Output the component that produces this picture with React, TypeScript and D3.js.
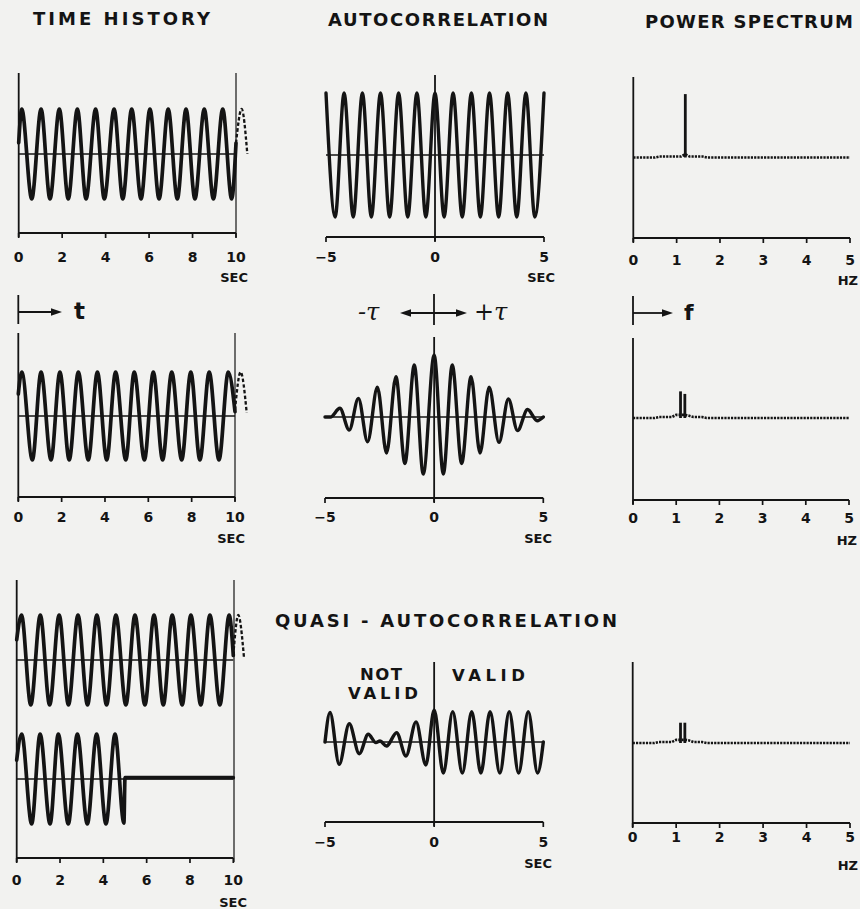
import React from "react";
import * as d3 from "d3";

// ---------------- data ----------------
const timeTicks = [0, 2, 4, 6, 8, 10];
const lagTicks = [-5, 0, 5];
const lagTickLabels = ["\u22125", "0", "5"];
const freqTicks = [0, 1, 2, 3, 4, 5];

const colTitles = ["TIME HISTORY", "AUTOCORRELATION", "POWER SPECTRUM"];
const quasiTitle = "QUASI - AUTOCORRELATION";

// Row 1 : time history (start, extrema, end)
const hist1T = [0, 0.14, 0.6, 1.03, 1.44, 1.87, 2.28, 2.7, 3.1, 3.54, 3.94, 4.39, 4.79, 5.2, 5.63, 6.04, 6.46, 6.88, 7.3, 7.7, 8.11, 8.54, 8.96, 9.39, 9.8, 10];
const hist1V = [0.25, 1, -1, 1, -1, 1, -1, 1, -1, 1, -1, 1, -1, 1, -1, 1, -1, 1, -1, 1, -1, 1, -1, 1, -1, 0.24];
const hist1ExtT = [10, 10.26, 10.52];
const hist1ExtV = [0.24, 1, 0];

// Row 1 : autocorrelation
const acorr1T = [-5, -4.58, -4.17, -3.75, -3.33, -2.92, -2.5, -2.08, -1.67, -1.25, -0.83, -0.42, 0, 0.42, 0.83, 1.25, 1.67, 2.08, 2.5, 2.92, 3.33, 3.75, 4.17, 4.58, 5];
const acorr1V = [1, -1, 1, -1, 1, -1, 1, -1, 1, -1, 1, -1, 1, -1, 1, -1, 1, -1, 1, -1, 1, -1, 1, -1, 1];

// Power spectra, bins 0.0 .. 5.0 Hz every 0.1 Hz
const spec1 = [0, 0, 0, 0, 0, 0, 0.015, 0.015, 0.015, 0.015, 0.015, 0.015, 1.0, 0.015, 0.015, 0.015, 0.015,
  0, 0, 0, 0, 0, 0, 0, 0, 0, 0, 0, 0, 0, 0, 0, 0, 0, 0, 0, 0, 0, 0, 0, 0, 0, 0, 0, 0, 0, 0, 0, 0, 0, 0];
const spec2 = [0, 0, 0, 0, 0, 0, 0.015, 0.015, 0.015, 0.015, 0.05, 0.42, 0.38, 0.035, 0.015, 0.015, 0.015,
  0, 0, 0, 0, 0, 0, 0, 0, 0, 0, 0, 0, 0, 0, 0, 0, 0, 0, 0, 0, 0, 0, 0, 0, 0, 0, 0, 0, 0, 0, 0, 0, 0, 0];
const spec3 = [0, 0, 0, 0, 0, 0, 0.015, 0.015, 0.015, 0.015, 0.05, 0.32, 0.32, 0.04, 0.015, 0.015, 0.015,
  0, 0, 0, 0, 0, 0, 0, 0, 0, 0, 0, 0, 0, 0, 0, 0, 0, 0, 0, 0, 0, 0, 0, 0, 0, 0, 0, 0, 0, 0, 0, 0, 0, 0];
const specFreq = spec1.map((_, i) => i / 10);

// Row 2 : time history
const hist2T = [0, 0.16, 0.65, 1.05, 1.51, 1.92, 2.35, 2.77, 3.23, 3.65, 4.08, 4.49, 4.96, 5.35, 5.82, 6.23, 6.66, 7.08, 7.54, 7.96, 8.38, 8.81, 9.26, 9.69, 10];
const hist2V = [0.5, 1, -1, 1, -1, 1, -1, 1, -1, 1, -1, 1, -1, 1, -1, 1, -1, 1, -1, 1, -1, 1, -1, 1, 0.1];
const hist2ExtT = [10, 10.26, 10.54];
const hist2ExtV = [0.14, 1, 0.07];

// Row 2 : autocorrelation
const acorr2T = [-5, -4.75, -4.32, -3.89, -3.47, -3.05, -2.6, -2.18, -1.75, -1.34, -0.91, -0.5, 0, 0.42, 0.83, 1.26, 1.69, 2.1, 2.52, 2.97, 3.4, 3.82, 4.28, 4.72, 5];
const acorr2V = [0, 0, 0.14, -0.21, 0.3, -0.4, 0.48, -0.58, 0.65, -0.75, 0.84, -0.92, 1.0, -0.92, 0.84, -0.75, 0.65, -0.58, 0.48, -0.41, 0.29, -0.22, 0.12, -0.06, 0];

// Row 3 : two time histories (full and truncated)
const hist3aT = [0, 0.22, 0.65, 1.09, 1.52, 1.96, 2.39, 2.83, 3.27, 3.7, 4.15, 4.58, 5.04, 5.46, 5.92, 6.34, 6.77, 7.18, 7.64, 8.04, 8.5, 8.92, 9.38, 9.81, 10];
const hist3aV = [0.45, 1, -1, 1, -1, 1, -1, 1, -1, 1, -1, 1, -1, 1, -1, 1, -1, 1, -1, 1, -1, 1, -1, 1, 0.1];
const hist3aExtT = [10, 10.23, 10.49];
const hist3aExtV = [0.1, 1, 0.07];
const hist3bT = [0, 0.23, 0.69, 1.08, 1.54, 1.92, 2.38, 2.8, 3.26, 3.69, 4.12, 4.54, 4.95, 5.0, 10];
const hist3bV = [0.42, 1, -1, 1, -1, 1, -1, 1, -1, 1, -1, 1, -0.98, 0.03, 0.03];

// Row 3 : quasi-autocorrelation
const quasiT = [-5, -4.77, -4.35, -3.89, -3.43, -3.02, -2.67, -2.48, -2.18, -1.72, -1.29, -0.83, -0.38, 0, 0.42, 0.85, 1.29, 1.72, 2.14, 2.56, 3.01, 3.44, 3.87, 4.31, 4.74, 5];
const quasiV = [0, 0.95, -0.72, 0.59, -0.38, 0.25, -0.02, 0.03, -0.13, 0.3, -0.45, 0.65, -0.74, 1.03, -1, 0.98, -1, 0.98, -1, 0.98, -1, 0.98, -1, 0.98, -1, 0];

// ---------------- layout / style ----------------
const W = 860;
const H = 909;
const INK = "#141414";
const BG = "#f2f2f0";
const FONT = "'DejaVu Sans', Verdana, sans-serif";

type Kind = "time" | "lag" | "freq";
type L = {
  x0: number; x1: number; top: number; bottom: number; zero: number; amp: number;
  labelY: number; unitY: number; unitRight: number; rightX?: number;
};

const TL: L = { x0: 18.7, x1: 236, top: 73, bottom: 233, zero: 154, amp: 45, labelY: 262, unitY: 282, unitRight: 248, rightX: 236 };
const TM: L = { x0: 326, x1: 544, top: 75, bottom: 237, zero: 155, amp: 62, labelY: 262, unitY: 282, unitRight: 555 };
const TR: L = { x0: 633.3, x1: 850, top: 77, bottom: 238, zero: 157.5, amp: 63.4, labelY: 265, unitY: 285, unitRight: 858 };
const ML: L = { x0: 18.3, x1: 235, top: 333, bottom: 497, zero: 416, amp: 44, labelY: 522, unitY: 543, unitRight: 245, rightX: 235 };
const MM: L = { x0: 325, x1: 543.3, top: 337, bottom: 498, zero: 417, amp: 62, labelY: 522, unitY: 543, unitRight: 552 };
const MR: L = { x0: 633, x1: 849, top: 338, bottom: 500, zero: 418, amp: 63.4, labelY: 523, unitY: 545, unitRight: 857 };
const BL: L = { x0: 16.7, x1: 233.3, top: 580, bottom: 858, zero: 660, amp: 45, labelY: 885, unitY: 907, unitRight: 247, rightX: 234 };
const BL_LOWER_ZERO = 779;
const BM: L = { x0: 325, x1: 543.3, top: 662, bottom: 822, zero: 742, amp: 31, labelY: 847, unitY: 868, unitRight: 552 };
const BR: L = { x0: 632.7, x1: 850, top: 662, bottom: 823, zero: 743, amp: 63.4, labelY: 842, unitY: 870, unitRight: 858 };

function xScale(kind: Kind, l: L) {
  const dom = kind === "time" ? [0, 10] : kind === "lag" ? [-5, 5] : [0, 5];
  return d3.scaleLinear().domain(dom).range([l.x0, l.x1]);
}
function yScale(l: L, zero = l.zero) {
  return d3.scaleLinear().domain([-1, 1]).range([zero + l.amp, zero - l.amp]);
}

function wave(xs: d3.ScaleLinear<number, number>, ys: d3.ScaleLinear<number, number>, T: number[], V: number[]) {
  const pts: [number, number][] = T.map((t, i) => [t, V[i]]);
  return d3.line<[number, number]>().x((d) => xs(d[0])).y((d) => ys(d[1])).curve(d3.curveMonotoneX)(pts) || "";
}

function Frame({ kind, l, zeroLines = [] }: { kind: Kind; l: L; zeroLines?: number[] }) {
  const xs = xScale(kind, l);
  const ticks = kind === "time" ? timeTicks : kind === "lag" ? lagTicks : freqTicks;
  const labels = kind === "lag" ? lagTickLabels : ticks.map(String);
  const unit = kind === "freq" ? "HZ" : "SEC";
  const axisX = kind === "lag" ? xs(0) : xs(ticks[0]);
  return (
    <g stroke={INK} fill="none">
      <line x1={l.x0} x2={l.x1} y1={l.bottom} y2={l.bottom} strokeWidth={1.9} />
      <line x1={axisX} x2={axisX} y1={l.top} y2={l.bottom + 4} strokeWidth={1.8} />
      {l.rightX !== undefined && (
        <line x1={l.rightX} x2={l.rightX} y1={l.top} y2={l.bottom + 4} strokeWidth={1.2} />
      )}
      {ticks.map((t) => (
        <line key={"t" + t} x1={xs(t)} x2={xs(t)} y1={l.bottom} y2={l.bottom + 5} strokeWidth={1.7} />
      ))}
      {zeroLines.map((z, i) => (
        <line key={"z" + i} x1={l.x0} x2={l.x1} y1={z} y2={z} strokeWidth={1.7} />
      ))}
      <g stroke="none" fill={INK} fontFamily={FONT} fontWeight="bold">
        {ticks.map((t, i) => (
          <text key={"l" + t} x={xs(t)} y={l.labelY} fontSize={14} textAnchor="middle">
            {labels[i]}
          </text>
        ))}
        <text x={l.unitRight} y={l.unitY} fontSize={13} textAnchor="end">
          {unit}
        </text>
      </g>
    </g>
  );
}

function TimeTrace({ l, T, V, extT, extV, zero }: { l: L; T: number[]; V: number[]; extT?: number[]; extV?: number[]; zero?: number }) {
  const xs = d3.scaleLinear().domain([0, 10]).range([l.x0, l.x1]);
  const ys = yScale(l, zero ?? l.zero);
  return (
    <g fill="none" stroke={INK} strokeLinejoin="round" strokeLinecap="round">
      <path d={wave(xs, ys, T, V)} strokeWidth={3.7} />
      {extT && extV && <path d={wave(xs, ys, extT, extV)} strokeWidth={2.3} strokeDasharray="3.5 2.2" strokeLinecap="butt" />}
    </g>
  );
}

function LagTrace({ l, T, V }: { l: L; T: number[]; V: number[] }) {
  const xs = d3.scaleLinear().domain([-5, 5]).range([l.x0, l.x1]);
  const ys = yScale(l);
  return <path d={wave(xs, ys, T, V)} fill="none" stroke={INK} strokeWidth={3.4} strokeLinejoin="round" strokeLinecap="round" />;
}

function Spectrum({ l, P }: { l: L; P: number[] }) {
  const xs = d3.scaleLinear().domain([0, 5]).range([l.x0, l.x1]);
  const ys = d3.scaleLinear().domain([0, 1]).range([l.zero, l.zero - l.amp]);
  const base = d3.line<number>().x((_, i) => xs(specFreq[i])).y((d) => ys(Math.min(d, 0.05)))(P) || "";
  return (
    <g stroke={INK} fill="none">
      <path d={base} strokeWidth={2.6} strokeDasharray="2.2 1.1" />
      {P.map((p, i) =>
        p > 0.1 ? (
          <line key={i} x1={xs(specFreq[i])} x2={xs(specFreq[i])} y1={ys(0)} y2={ys(p)} strokeWidth={2.8} />
        ) : null
      )}
    </g>
  );
}

function Title({ text, x0, x1, y }: { text: string; x0: number; x1: number; y: number }) {
  return (
    <text x={x0} y={y} fontFamily={FONT} fontWeight="bold" fontSize={18} fill={INK} textLength={x1 - x0} lengthAdjust="spacing">
      {text}
    </text>
  );
}

function Arrows() {
  const head = (tipX: number, y: number, dir: number) =>
    `M${tipX},${y} L${tipX - dir * 11},${y - 3.8} L${tipX - dir * 11},${y + 3.8} Z`;
  return (
    <g stroke={INK} fill={INK}>
      {/* t arrow */}
      <line x1={18.3} x2={18.3} y1={295} y2={324} strokeWidth={1.8} />
      <line x1={18.3} x2={54} y1={312} y2={312} strokeWidth={1.8} />
      <path d={head(62, 312, 1)} stroke="none" />
      <text x={74} y={319} fontFamily={FONT} fontWeight="bold" fontSize={23} stroke="none">t</text>
      {/* tau arrows */}
      <line x1={434} x2={434} y1={294} y2={325} strokeWidth={1.8} />
      <line x1={407} x2={460} y1={313} y2={313} strokeWidth={1.8} />
      <path d={head(400, 313, -1)} stroke="none" />
      <path d={head(467, 313, 1)} stroke="none" />
      <text x={358} y={320} fontFamily="'DejaVu Serif', serif" fontStyle="italic" fontSize={24} stroke="none">{"-\u03C4"}</text>
      <text x={474} y={320} fontFamily="'DejaVu Serif', serif" fontStyle="italic" fontSize={24} stroke="none">{"+\u03C4"}</text>
      {/* f arrow */}
      <line x1={633} x2={633} y1={296} y2={325} strokeWidth={1.8} />
      <line x1={633} x2={665} y1={313} y2={313} strokeWidth={1.8} />
      <path d={head(673, 313, 1)} stroke="none" />
      <text x={684} y={320} fontFamily={FONT} fontWeight="bold" fontSize={22} stroke="none">f</text>
    </g>
  );
}

export default function App() {
  return (
    <svg width={W} height={H} viewBox={`0 0 ${W} ${H}`} style={{ position: "absolute", left: 0, top: 0 }}>
      <rect x={0} y={0} width={W} height={H} fill={BG} />

      <Title text={colTitles[0]} x0={33} x1={210} y={25} />
      <Title text={colTitles[1]} x0={328} x1={548} y={26} />
      <Title text={colTitles[2]} x0={645} x1={853} y={28} />

      {/* Row 1 */}
      <Frame kind="time" l={TL} zeroLines={[TL.zero]} />
      <TimeTrace l={TL} T={hist1T} V={hist1V} extT={hist1ExtT} extV={hist1ExtV} />
      <Frame kind="lag" l={TM} zeroLines={[TM.zero]} />
      <LagTrace l={TM} T={acorr1T} V={acorr1V} />
      <Frame kind="freq" l={TR} />
      <Spectrum l={TR} P={spec1} />

      <Arrows />

      {/* Row 2 */}
      <Frame kind="time" l={ML} zeroLines={[ML.zero]} />
      <TimeTrace l={ML} T={hist2T} V={hist2V} extT={hist2ExtT} extV={hist2ExtV} />
      <Frame kind="lag" l={MM} zeroLines={[MM.zero]} />
      <LagTrace l={MM} T={acorr2T} V={acorr2V} />
      <Frame kind="freq" l={MR} />
      <Spectrum l={MR} P={spec2} />

      {/* Row 3 */}
      <Frame kind="time" l={BL} zeroLines={[BL.zero, BL_LOWER_ZERO]} />
      <TimeTrace l={BL} T={hist3aT} V={hist3aV} extT={hist3aExtT} extV={hist3aExtV} />
      <TimeTrace l={BL} T={hist3bT} V={hist3bV} zero={BL_LOWER_ZERO} />

      <Title text={quasiTitle} x0={275} x1={617} y={627} />
      <g fontFamily={FONT} fontWeight="bold" fontSize={16.5} fill={INK}>
        <text x={360} y={680} textLength={42} lengthAdjust="spacing">NOT</text>
        <text x={348} y={699} textLength={70} lengthAdjust="spacing">VALID</text>
        <text x={452} y={681} textLength={73} lengthAdjust="spacing">VALID</text>
      </g>
      <Frame kind="lag" l={BM} zeroLines={[BM.zero]} />
      <LagTrace l={BM} T={quasiT} V={quasiV} />
      <Frame kind="freq" l={BR} />
      <Spectrum l={BR} P={spec3} />
    </svg>
  );
}
